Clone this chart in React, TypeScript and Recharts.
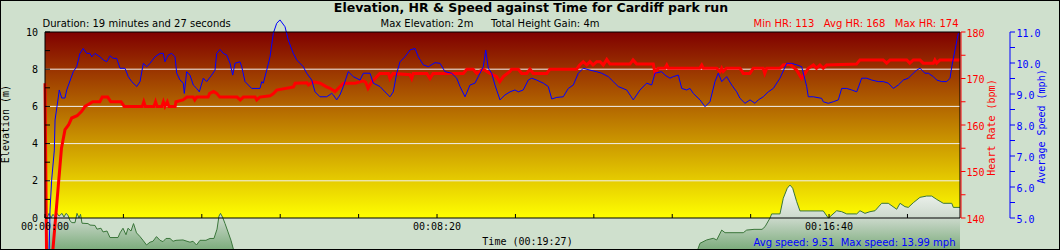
import React from 'react';
import { ComposedChart, XAxis, YAxis, Line, Area, ReferenceArea, ReferenceLine } from 'recharts';

// ---------- data ----------
const DURATION = 1167; // seconds (00:19:27)

const timeTicks = [0, 100, 200, 300, 400, 500, 600, 700, 800, 900, 1000, 1100];
const labelledTimes = [0, 500, 1000];
const elevTicks = [0, 1, 2, 3, 4, 5, 6, 7, 8, 9, 10];
const elevGridLines = [2, 4, 6, 8];
const hrTicks = [140, 145, 150, 155, 160, 165, 170, 175, 180];
const speedTicks = [5, 5.5, 6, 6.5, 7, 7.5, 8, 8.5, 9, 9.5, 10, 10.5, 11];

const titleText = 'Elevation, HR & Speed against Time for Cardiff park run';
const durationText = 'Duration: 19 minutes and 27 seconds';
const maxElevText = 'Max Elevation: 2m';
const heightGainText = 'Total Height Gain: 4m';
const hrStatsText = 'Min HR: 113   Avg HR: 168   Max HR: 174';
const speedStatsText = 'Avg speed: 9.51  Max speed: 13.99 mph';

// [time (s), elevation (m)]
const elevSeries: [number, number][] = [
  [0,0],[1.3,0.25],[3.2,0.05],[5.1,0.25],[7.7,0],[10.2,0.2],[12.8,0.05],[15.3,0.25],[17.9,0.1],[21.7,0.25],[24.2,0.05],[26.8,0.25],[29.3,0.15],[31.9,-0.15],[34.4,-0.25],[38.3,-0.25],[40.8,0.25],[43.4,0],[45.3,0.2],[47.2,-0.28],[54.8,-0.3],[57.4,-0.38],[63.8,-0.4],[66.3,-0.6],[71.4,-0.55],[74,-0.75],[79.1,-0.7],[82.9,-1.05],[93.1,-1.05],[95.7,-0.8],[99.5,-0.55],[103.3,-0.9],[105.9,-0.55],[109.7,-0.7],[112.9,-0.3],[116.7,-0.8],[121.2,-1],[125,-1.2],[129.5,-1.45],[133.9,-1.3],[137.7,-1.25],[142.2,-1],[146.7,-1.2],[150.5,-1.27],[154.3,-1.1],[159.4,-1.1],[163.3,-1.25],[167.1,-1.2],[176,-1.18],[181.1,-1.25],[184.9,-1.3],[188.8,-1.25],[193.2,-1.45],[197.7,-1.2],[205.3,-1.2],[210.4,-1.1],[215.5,-1.1],[219.4,-0.6],[221.9,0.1],[223.8,0.25],[226.4,0.05],[229.6,-0.3],[233.4,-0.75],[237.2,-1.2],[241.1,-1.8],[246.1,-2.3],[325,-2.6],[452.8,-2.8],[580.3,-2.9],[707.9,-2.7],[809.9,-2.3],[825.2,-2],[831.6,-1.8],[835.4,-1.36],[843.9,-1.18],[852.3,-1.09],[856.7,-1.18],[863.1,-0.65],[867.3,-0.79],[890.6,-0.79],[894.9,-0.65],[904.3,-0.61],[914.5,-0.61],[918.3,-0.47],[924.7,0],[926.8,0.22],[937.4,0.22],[941.6,1.06],[946.7,1.6],[950.2,1.77],[953.6,1.6],[958.7,0.88],[962.9,0.38],[992.6,0.38],[999,0],[1001.2,0.07],[1009.7,0.39],[1016.1,0.34],[1022.5,0.22],[1035.3,0.22],[1039.4,0.39],[1045.8,0.25],[1052.2,0.34],[1058.6,0.39],[1067.1,0.79],[1075.5,0.79],[1086.3,0.47],[1090.5,0.79],[1096.8,0.61],[1101.1,0.57],[1107.4,0.82],[1116,1.11],[1124.5,1.18],[1130.9,1.18],[1137.3,1],[1145.7,0.79],[1156.5,0.79],[1158.5,0.57],[1167,0.57]
];

// [time (s), heart rate (bpm)]
const hrSeries: [number, number][] = [
  [0,169],[3,113],[10,133],[17,147],[19,151],[21,155],[25.5,159],[30,160],[34,161.5],[41,162],[47,163],[51,164],[61,165],[70,165],[73,166],[80,166],[84,165],[97,165],[101,164],[124,164],[126,165],[128,164],[139,164],[141,165],[143,164],[149,164],[151,165],[153,164],[156,165],[158,164],[166,164],[167,165],[176,165.4],[181,166],[189,166],[191,165.4],[193.5,166],[208,166],[210,166.8],[215,167.2],[219,166.8],[223,166],[245,166],[249,165.4],[253,166],[268,166],[270,165.4],[274,166],[287,166.3],[291,166.7],[295.5,167.5],[317,168.2],[319,169],[334,169.1],[336,168.6],[342,169.3],[351,169],[359,168.2],[363.5,167.9],[370,167.2],[380.5,169],[395.4,169],[406,169.5],[409,169.2],[412,167.9],[416.7,169.3],[421,170],[427,171.1],[438,171.1],[440,170],[444,171.1],[465.5,170.8],[467.7,170],[469.7,171.1],[487,171.1],[491,170],[495,171.1],[533.5,171.1],[538,172],[546,172],[550.6,171.1],[555,171.6],[559,172],[562.5,171.6],[567.5,171.1],[576,170.4],[580,169.3],[584.5,170.4],[593,171.5],[595,172],[603.7,172],[608,171.1],[614.4,171.1],[618.6,172],[622.8,171.1],[640,171.1],[644,172],[678,172],[682,172.9],[686.5,173.6],[691,172.9],[695,173.6],[699,172.9],[703.6,173.6],[708,173.6],[712,172.9],[716.5,174.1],[720.6,173.1],[746,173.1],[750,174],[754.6,173.1],[775.8,173.1],[778,171.1],[782,172.2],[790.7,172.2],[793,172.9],[795,172.2],[835,172.2],[837.6,172.9],[839.6,172.2],[856.7,172.2],[861,171.5],[863,172.2],[865,171.5],[869,172.2],[886.4,172.2],[890.6,171.1],[899,171.1],[903.4,172.2],[916,172.2],[918,171.1],[920.5,172.2],[937.4,172.2],[941.6,172.9],[950,173.1],[958.7,171.8],[965,170],[969.3,171.1],[973.5,172.2],[980,172.9],[984,172.2],[988.4,172.9],[992.6,172.2],[997,172.9],[1035,173.1],[1039.4,174],[1069,174],[1073.5,173.3],[1077.7,174],[1099,174],[1103,173.3],[1107.4,174],[1116,174],[1120,173.3],[1133,173.3],[1135,174],[1137.3,173.3],[1141.5,174],[1167,174]
];

// [time (s), average speed (mph)]
const speedSeries: [number, number][] = [
  [2,0],[6.4,5.26],[8.5,6.23],[11.9,7.19],[12.8,8.16],[17,8.9],[18.2,9.13],[21.3,8.87],[25.5,8.87],[27.7,9.13],[36.1,9.72],[40.4,9.88],[44.6,10.31],[48.8,10.47],[53.2,10.31],[57.4,10.31],[59.6,10.2],[63.8,10.31],[70.1,10.2],[74.4,10.1],[78.7,10.04],[83,10.23],[87.1,10.15],[91.4,10.15],[95.7,9.83],[102,9.83],[106.2,9.56],[110.6,9.4],[117,9.24],[121.2,9.4],[125.4,9.99],[129.7,9.88],[133.9,9.99],[140.3,10.2],[146.7,10.31],[150.9,10.31],[153,10.04],[157.3,10.26],[161.6,10.31],[165.8,10.2],[168,9.67],[172.2,9.45],[176.4,9.35],[177.7,9.02],[180.7,9.72],[184.9,9.61],[189.1,9.29],[193.5,9.18],[196.8,9.07],[201.9,9.51],[206.2,9.4],[212.6,9.61],[216.8,9.77],[219,10.31],[223.2,10.44],[227.4,10.31],[231.7,10.26],[236,9.99],[239.4,9.61],[242.3,9.99],[248.7,10.04],[250.9,9.88],[255.1,9.4],[259.3,9.29],[263.6,9.18],[274.2,9.18],[276.4,9.4],[278.4,9.35],[282.8,9.77],[287,10.2],[291.2,10.96],[295.5,11.28],[299.7,11.39],[306.1,11.17],[310.3,10.74],[316.7,10.31],[321,10.1],[329.4,9.88],[333.8,9.67],[340.2,9.45],[344.4,9.07],[350.7,8.91],[359.3,8.91],[365.7,9.02],[367.7,8.97],[372,8.81],[376.2,8.97],[380.5,9.24],[386.8,9.72],[393.2,9.56],[401.8,9.45],[406,9.67],[414.5,9.67],[418.7,9.35],[427.3,9.24],[433.6,9.07],[440,8.91],[444.2,9.07],[448.6,9.67],[452.8,10.04],[459.1,10.2],[465.5,10.42],[471.9,10.47],[476.1,10.2],[482.5,9.94],[488.9,9.88],[497.4,10.01],[503.8,9.99],[510.2,9.72],[518.7,9.67],[525.1,9.51],[529.3,9.24],[535.7,8.91],[542.1,9.29],[548.4,9.35],[554.8,9.67],[559,9.88],[562.1,10.42],[565.4,9.83],[569.7,9.67],[573.9,9.29],[580.3,8.81],[586.7,8.97],[593.1,9.07],[599.4,9.13],[603.7,9.07],[610,9.13],[616.4,9.45],[620.7,9.51],[627.1,9.45],[635.5,9.35],[641.9,9.24],[646.3,8.84],[652.6,8.89],[661,8.91],[667.4,9.18],[673.8,9.29],[680.2,9.67],[686.5,9.83],[695.1,9.77],[703.6,9.72],[710,9.67],[718.4,9.56],[724.8,9.4],[731.2,9.24],[741.9,9.13],[750.3,8.81],[758.9,9.13],[767.4,9.35],[773.8,9.29],[778,9.67],[786.5,9.72],[790.7,9.61],[797.1,9.51],[801.3,9.56],[807.7,9.61],[812.1,9.18],[818.4,9.13],[822.6,9.18],[826.8,9.02],[835.4,8.81],[841.8,8.59],[848.1,8.75],[854.5,9.4],[858.7,9.67],[863.1,9.4],[869.4,9.56],[875.8,9.29],[882.2,9.07],[886.4,8.86],[892.8,8.7],[899.2,8.81],[905.5,8.7],[909.8,8.81],[916.1,8.91],[922.5,9.07],[928.9,9.18],[937.4,9.51],[946,9.99],[952.3,9.99],[958.7,9.94],[965.1,9.88],[971.5,9.24],[973.5,8.91],[979.9,8.91],[990.6,8.86],[992.6,8.75],[999,8.7],[1005.4,8.75],[1011.8,8.81],[1016.1,9.18],[1022.5,9.18],[1028.9,9.13],[1035.3,9.07],[1041.6,9.51],[1048,9.51],[1054.4,9.45],[1062.8,9.4],[1069.2,9.4],[1075.5,9.35],[1081.9,9.18],[1088.3,9.29],[1094.7,9.45],[1101.1,9.51],[1107.4,9.67],[1111.8,9.77],[1116,9.83],[1122.4,9.67],[1126.6,9.67],[1133,9.56],[1137.3,9.45],[1143.7,9.4],[1150.1,9.4],[1154.3,9.51],[1156.5,9.88],[1160.6,10.42],[1164.9,10.96]
];

// ---------- layout ----------
const W = 1060;
const H = 250;
const PLOT = { left: 45, right: 960, top: 32, bottom: 218 };
const OVER = { left: 40, right: 965, top: 0, bottom: 250 }; // series may overflow the frame
const ELEV_DOMAIN: [number, number] = [0, 10];
const HR_DOMAIN: [number, number] = [140, 180];
const SPEED_DOMAIN: [number, number] = [5, 11];

const MONO = "'DejaVu Sans Mono', monospace";
const SANS = "'DejaVu Sans', Verdana, sans-serif";
const BG = '#CFE0CD';

const pxPerSec = (PLOT.right - PLOT.left) / DURATION;
const X_OVER: [number, number] = [
  -(PLOT.left - OVER.left) / pxPerSec,
  DURATION + (OVER.right - PLOT.right) / pxPerSec,
];
const overDomain = ([lo, hi]: [number, number]): [number, number] => {
  const ppu = (PLOT.bottom - PLOT.top) / (hi - lo);
  return [lo - (OVER.bottom - PLOT.bottom) / ppu, hi + (PLOT.top - OVER.top) / ppu];
};

const rows = (s: [number, number][]) => s.map(([t, v]) => ({ t, v }));
const elevRows = rows(elevSeries);
const hrRows = rows(hrSeries);
const speedRows = rows(speedSeries);

const fmtTime = (s: number) => {
  const h = Math.floor(s / 3600);
  const m = Math.floor((s % 3600) / 60);
  const sec = Math.round(s % 60);
  return [h, m, sec].map((n) => String(n).padStart(2, '0')).join(':');
};

// ---------- ticks ----------
const TimeTick = (p: any) => {
  const { x, y, payload } = p;
  const v = payload.value;
  return (
    <g>
      <line x1={x} x2={x} y1={y} y2={y - 4} stroke="#000" />
      {labelledTimes.includes(v) && (
        <text x={x} y={y + 12} textAnchor="middle" fontFamily={MONO} fontSize={10} fill="#000">
          {fmtTime(v)}
        </text>
      )}
    </g>
  );
};

const ElevTick = (p: any) => {
  const { x, y, payload } = p;
  const v = payload.value;
  return (
    <g>
      <line x1={x} x2={x + 5} y1={y} y2={y} stroke="#000" />
      {v % 2 === 0 && (
        <text x={x - 7} y={y + 3.5} textAnchor="end" fontFamily={MONO} fontSize={10} fill="#000">
          {v}
        </text>
      )}
    </g>
  );
};

const HrTick = (p: any) => {
  const { x, y, payload } = p;
  const v = payload.value;
  return (
    <g>
      <line x1={x + 1} x2={x + 5.5} y1={y} y2={y} stroke="#FF0000" />
      {v % 10 === 0 && (
        <text x={x + 6.5} y={y + 4.5} textAnchor="start" fontFamily={MONO} fontSize={10} fill="#FF0000">
          {v}
        </text>
      )}
    </g>
  );
};

const SpeedTick = (p: any) => {
  const { x, y, payload } = p;
  const v = payload.value;
  return (
    <g>
      <line x1={x} x2={x + 5} y1={y} y2={y} stroke="#0000FF" />
      {Number.isInteger(v) && (
        <text x={x + 6.5} y={y + 4.5} textAnchor="start" fontFamily={MONO} fontSize={10} fill="#0000FF">
          {v.toFixed(1)}
        </text>
      )}
    </g>
  );
};

const layer: React.CSSProperties = { position: 'absolute', left: 0, top: 0 };

export default function App() {
  return (
    <div style={{ position: 'fixed', left: 0, top: 0, width: W, height: H, background: BG, overflow: 'hidden' }}>
      {/* background gradient + grid */}
      <div style={layer}>
        <ComposedChart
          width={W}
          height={H}
          data={elevRows}
          margin={{ top: PLOT.top, right: W - PLOT.right, bottom: H - PLOT.bottom, left: PLOT.left }}
        >
          <defs>
            <linearGradient id="plotBg" x1="0" y1="0" x2="0" y2="1">
              <stop offset="0" stopColor="#800000" />
              <stop offset="1" stopColor="#FFFF00" />
            </linearGradient>
          </defs>
          <XAxis type="number" dataKey="t" domain={[0, DURATION]} allowDataOverflow hide />
          <YAxis type="number" domain={ELEV_DOMAIN} allowDataOverflow hide />
          <ReferenceArea x1={0} x2={DURATION} y1={0} y2={10} fill="url(#plotBg)" fillOpacity={1} stroke="none" />
          {elevGridLines.map((v) => (
            <ReferenceLine key={v} y={v} stroke="#F0F0F0" strokeWidth={1} />
          ))}
        </ComposedChart>
      </div>

      {/* series (allowed to overflow the frame) */}
      <div style={layer}>
        <ComposedChart
          width={W}
          height={H}
          margin={{ top: OVER.top, right: W - OVER.right, bottom: H - OVER.bottom, left: OVER.left }}
        >
          <defs>
            <linearGradient id="elevFill" gradientUnits="userSpaceOnUse" x1="0" y1="180" x2="0" y2="250">
              <stop offset="0" stopColor="#FFFFFF" />
              <stop offset="0.54" stopColor="#CCD9CC" />
              <stop offset="1" stopColor="#7BAB7B" />
            </linearGradient>
          </defs>
          <XAxis type="number" dataKey="t" domain={X_OVER} allowDataOverflow hide />
          <YAxis yAxisId="elev" type="number" domain={overDomain(ELEV_DOMAIN)} allowDataOverflow hide />
          <YAxis yAxisId="hr" type="number" domain={overDomain(HR_DOMAIN)} allowDataOverflow hide />
          <YAxis yAxisId="spd" type="number" domain={overDomain(SPEED_DOMAIN)} allowDataOverflow hide />
          <Area
            yAxisId="elev"
            data={elevRows}
            dataKey="v"
            type="linear"
            baseValue={-6}
            fill="url(#elevFill)"
            fillOpacity={1}
            stroke="#3A763A"
            strokeWidth={1}
            dot={false}
            activeDot={false}
            isAnimationActive={false}
          />
          <Line
            yAxisId="hr"
            data={hrRows}
            dataKey="v"
            type="linear"
            stroke="#FF0000"
            strokeWidth={3}
            dot={false}
            activeDot={false}
            isAnimationActive={false}
          />
          <Line
            yAxisId="spd"
            data={speedRows}
            dataKey="v"
            type="linear"
            stroke="#0000FF"
            strokeWidth={1}
            dot={false}
            activeDot={false}
            isAnimationActive={false}
          />
        </ComposedChart>
      </div>

      {/* axes + frame */}
      <div style={layer}>
        <ComposedChart
          width={W}
          height={H}
          data={elevRows}
          margin={{ top: PLOT.top, right: 5, bottom: 0, left: 15 }}
        >
          <XAxis
            type="number"
            dataKey="t"
            domain={[0, DURATION]}
            allowDataOverflow
            ticks={timeTicks}
            interval={0}
            tick={TimeTick}
            tickSize={0}
            tickMargin={0}
            tickLine={false}
            axisLine={false}
            height={32}
          />
          <YAxis
            yAxisId="elev"
            orientation="left"
            type="number"
            width={30}
            domain={ELEV_DOMAIN}
            allowDataOverflow
            ticks={elevTicks}
            interval={0}
            tick={ElevTick}
            tickSize={0}
            tickMargin={0}
            tickLine={false}
            axisLine={false}
          />
          <YAxis
            yAxisId="hr"
            orientation="right"
            type="number"
            width={50}
            domain={HR_DOMAIN}
            allowDataOverflow
            ticks={hrTicks}
            interval={0}
            tick={HrTick}
            tickSize={0}
            tickMargin={0}
            tickLine={false}
            axisLine={{ stroke: '#FF0000', transform: 'translate(1,0)' }}
          />
          <YAxis
            yAxisId="spd"
            orientation="right"
            type="number"
            width={45}
            domain={SPEED_DOMAIN}
            allowDataOverflow
            ticks={speedTicks}
            interval={0}
            tick={SpeedTick}
            tickSize={0}
            tickMargin={0}
            tickLine={false}
            axisLine={{ stroke: '#0000FF' }}
          />
          <ReferenceArea
            yAxisId="elev"
            x1={0}
            x2={DURATION}
            y1={ELEV_DOMAIN[0]}
            y2={ELEV_DOMAIN[1]}
            fill="none"
            fillOpacity={0}
            stroke="#000"
            strokeWidth={1}
          />
        </ComposedChart>
      </div>

      {/* titles and annotations */}
      <svg width={W} height={H} style={{ ...layer, pointerEvents: 'none' }}>
        <text x={531} y={12} textAnchor="middle" fontFamily={SANS} fontWeight="bold" fontSize={12.5} fill="#000">
          {titleText}
        </text>
        <text x={42.5} y={27} fontFamily={SANS} fontSize={10} fill="#000">{durationText}</text>
        <text x={380.5} y={27} fontFamily={SANS} fontSize={10} fill="#000">{maxElevText}</text>
        <text x={599.5} y={27} textAnchor="end" fontFamily={SANS} fontSize={10} fill="#000">{heightGainText}</text>
        <text x={958.5} y={27} textAnchor="end" fontFamily={SANS} fontSize={10} fill="#FF0000" style={{ whiteSpace: 'pre' }}>
          {hrStatsText}
        </text>
        <text x={527.5} y={245} textAnchor="middle" fontFamily={MONO} fontSize={10} fill="#000">
          {`Time (${fmtTime(DURATION)})`}
        </text>
        <text x={955.5} y={245.5} textAnchor="end" fontFamily={SANS} fontSize={10} fill="#0000FF" style={{ whiteSpace: 'pre' }}>
          {speedStatsText}
        </text>
        <text x={8.5} y={124} transform="rotate(-90 8.5 124)" textAnchor="middle" fontFamily={MONO} fontSize={10} fill="#000">
          Elevation (m)
        </text>
        <text x={994.5} y={127.5} transform="rotate(-90 994.5 127.5)" textAnchor="middle" fontFamily={MONO} fontSize={10} fill="#FF0000">
          Heart Rate (bpm)
        </text>
        <text x={1044.5} y={126.5} transform="rotate(-90 1044.5 126.5)" textAnchor="middle" fontFamily={MONO} fontSize={10} fill="#0000FF">
          Average Speed (mph)
        </text>
      </svg>
      <div style={{ ...layer, width: W, height: H, boxSizing: 'border-box', border: '1px solid #000', pointerEvents: 'none' }} />
    </div>
  );
}
